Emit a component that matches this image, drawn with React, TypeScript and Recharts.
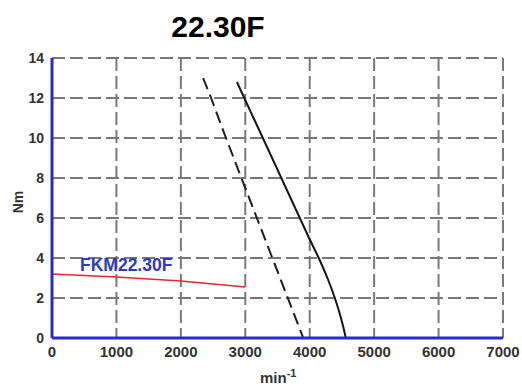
import React from 'react';
import { LineChart, Line, XAxis, YAxis, CartesianGrid } from 'recharts';

const xTicks = [0, 1000, 2000, 3000, 4000, 5000, 6000, 7000];
const yTicks = [0, 2, 4, 6, 8, 10, 12, 14];

const redSpeed = [0, 1000, 2000, 3000];
const redTorque = [3.2, 3.05, 2.85, 2.55];

const solidSpeed = [2870, 3990, 4065, 4140, 4210, 4275, 4335, 4390, 4440, 4485, 4525, 4560];
const solidTorque = [12.8, 5, 4.5, 4, 3.5, 3, 2.5, 2, 1.5, 1, 0.5, 0];

const dashSpeed = [2345, 2470, 2700, 2940, 3180, 3420, 3660, 3900];
const dashTorque = [13, 12, 10, 8, 6, 4, 2, 0];

const zip = (xs: number[], ys: number[]) => xs.map((x, i) => ({ x, y: ys[i] }));
const redData = zip(redSpeed, redTorque);
const solidData = zip(solidSpeed, solidTorque);
const dashData = zip(dashSpeed, dashTorque);

const FONT = 'Liberation Sans, Arial, sans-serif';
const AXIS_BLUE = '#2a2ad2';

export default function App() {
  return (
    <div style={{ position: 'absolute', left: 0, top: 0, width: 522, height: 390, background: '#fff' }}>
      <LineChart width={522} height={390} margin={{ top: 58, right: 19, left: 12, bottom: 22 }}>
        <CartesianGrid
          stroke="#7a7a7a"
          strokeWidth={2}
          strokeDasharray="13 5"
          horizontalValues={yTicks}
          verticalValues={xTicks}
        />
        <XAxis
          type="number"
          dataKey="x"
          domain={[0, 7000]}
          ticks={xTicks}
          height={30}
          tickLine={false}
          axisLine={{ stroke: AXIS_BLUE, strokeWidth: 3 }}
          tick={{ fill: '#333', fontSize: 15, fontWeight: 'bold', fontFamily: FONT }}
          interval={0}
          allowDataOverflow
        />
        <YAxis
          type="number"
          domain={[0, 14]}
          ticks={yTicks}
          width={40}
          tickLine={false}
          axisLine={{ stroke: AXIS_BLUE, strokeWidth: 3 }}
          tick={{ fill: '#333', fontSize: 14, fontWeight: 'bold', fontFamily: FONT }}
          interval={0}
          allowDataOverflow
        />
        <Line data={redData} dataKey="y" stroke="#e8262e" strokeWidth={1.6} dot={false} isAnimationActive={false} />
        <Line data={dashData} dataKey="y" stroke="#1e1e1e" strokeWidth={2} strokeDasharray="12 6" dot={false} isAnimationActive={false} />
        <Line data={solidData} dataKey="y" stroke="#151515" strokeWidth={2} dot={false} isAnimationActive={false} />
      </LineChart>
      <svg width={522} height={390} style={{ position: 'absolute', left: 0, top: 0, pointerEvents: 'none' }}>
        <text x={218} y={37} textAnchor="middle" fontFamily={FONT} fontWeight="bold" fontSize={30} fill="#000">22.30F</text>
        <text x={80} y={271} fontFamily={FONT} fontWeight="bold" fontSize={17.5} fill="#2a3bcc">FKM22.30F</text>
        <text x={23} y={202} transform="rotate(-90 23 202)" textAnchor="middle" fontFamily={FONT} fontWeight="bold" fontSize={14} fill="#333">Nm</text>
        <text x={260} y={383} fontFamily={FONT} fontWeight="bold" fontSize={15} fill="#333">
          min<tspan dy={-6} fontSize={11}>-1</tspan>
        </text>
      </svg>
    </div>
  );
}
